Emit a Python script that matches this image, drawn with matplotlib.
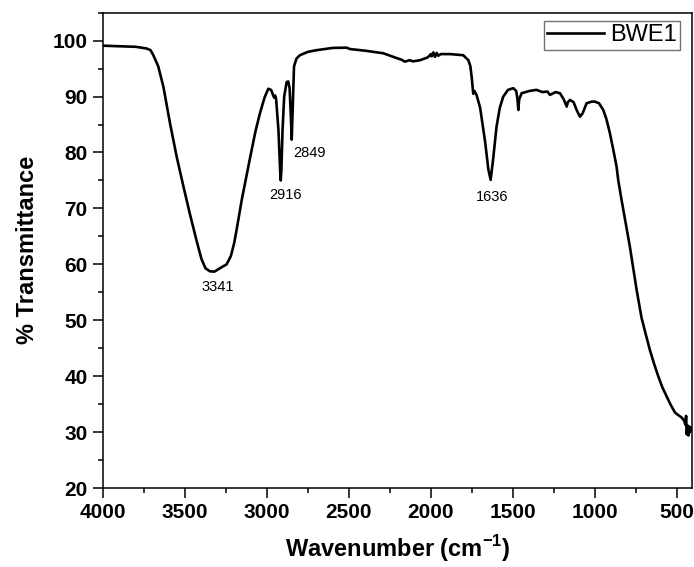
import matplotlib
matplotlib.use("Agg")
import matplotlib.pyplot as plt
from matplotlib.ticker import MultipleLocator

plt.rcParams['font.family'] = ['Liberation Sans', 'DejaVu Sans']
plt.rcParams['mathtext.fontset'] = 'custom'
plt.rcParams['mathtext.bf'] = 'Liberation Sans:bold'

# FTIR spectrum of BWE1
wavenumber = [
    4000, 3900, 3800, 3734, 3710, 3693, 3663, 3632, 3591, 3551, 3510, 3470,
    3429, 3400, 3375, 3348, 3320, 3287, 3246, 3220, 3200, 3185, 3154, 3124,
    3100, 3070, 3043, 3015, 2992, 2975, 2962, 2956, 2950, 2944, 2930, 2920,
    2916, 2912, 2905, 2895, 2880, 2870, 2862, 2855, 2849, 2843, 2835, 2820,
    2799, 2750, 2697, 2600, 2514, 2494, 2400, 2291, 2220, 2180, 2159, 2130,
    2110, 2067, 2020, 2000, 1995, 1985, 1975, 1965, 1955, 1940, 1884, 1803,
    1772, 1760, 1752, 1742, 1735, 1722, 1700, 1670, 1650, 1636, 1620, 1600,
    1580, 1559, 1530, 1498, 1480, 1472, 1467, 1462, 1447, 1400, 1356, 1320,
    1290, 1274, 1240, 1213, 1190, 1172, 1165, 1152, 1130, 1110, 1091, 1075,
    1051, 1020, 1000, 975, 949, 930, 909, 888, 868, 858, 838, 787, 746, 716,
    690, 665, 640, 614, 590, 563, 540, 512, 490, 471, 455, 448, 444, 440,
    435, 430, 425, 420, 415, 410,
]
transmittance = [
    99.1, 99.0, 98.9, 98.6, 98.3, 97.4, 95.4, 91.8, 85.2, 79.3, 74.0, 69.0,
    64.2, 61.0, 59.3, 58.75, 58.7, 59.3, 60.0, 61.5, 63.8, 66.2, 71.5, 76.0,
    79.5, 83.8, 87.0, 89.8, 91.4, 91.2, 90.2, 89.8, 90.2, 89.5, 84.0, 77.0,
    75.0, 77.0, 84.0, 90.0, 92.6, 92.7, 91.5, 87.0, 82.3, 88.0, 95.4, 96.8,
    97.4, 98.0, 98.3, 98.7, 98.75, 98.5, 98.2, 97.75, 97.0, 96.6, 96.25, 96.5,
    96.3, 96.5, 97.0, 97.6, 97.2, 97.9, 97.1, 97.8, 97.3, 97.6, 97.6, 97.4,
    96.5, 95.5, 93.6, 90.5, 91.0, 90.3, 88.0, 82.0, 77.0, 75.1, 79.0, 84.6,
    88.0, 90.0, 91.2, 91.5, 91.0, 89.5, 87.6, 89.5, 90.6, 91.0, 91.2, 90.8,
    90.9, 90.3, 90.8, 90.6, 89.5, 88.2, 89.0, 89.4, 89.0, 87.5, 86.4, 87.0,
    88.8, 89.1, 89.1, 88.8, 87.6, 86.0, 83.5, 80.5, 77.5, 75.1, 71.6, 63.2,
    55.5, 50.5, 47.5, 44.7, 42.3, 40.0, 38.1, 36.4, 35.0, 33.5, 33.0, 32.6,
    32.0, 31.3, 32.9, 29.6, 31.2, 29.4, 31.0, 30.0, 30.8, 30.5,
]

# peak labels: text, x, y of the label centre
peak_labels = ['3341', '2916', '2849', '1636']
peak_x = [3300, 2889, 2738, 1624]
peak_y = [56.0, 72.4, 79.9, 72.1]

fig = plt.figure(figsize=(6.94, 5.67), dpi=100)
ax = fig.add_axes([0.1484, 0.1393, 0.8487, 0.8383])

ax.plot(wavenumber, transmittance, color='black', linewidth=1.9, label='BWE1')

for txt, px, py in zip(peak_labels, peak_x, peak_y):
    ax.text(px, py, txt, fontsize=10.5, ha='center', va='center')

ax.set_xlim(4000, 408)
ax.set_ylim(20, 105)
ax.xaxis.set_major_locator(MultipleLocator(500))
ax.xaxis.set_minor_locator(MultipleLocator(250))
ax.yaxis.set_minor_locator(MultipleLocator(5))
ax.set_yticks(range(20, 101, 10))

ax.tick_params(which='both', direction='out', width=1.1, top=False, right=False)
ax.tick_params(which='major', length=7, labelsize=15, pad=4)
ax.tick_params(which='minor', length=3.5)
for lab in ax.get_xticklabels() + ax.get_yticklabels():
    lab.set_fontweight('bold')
for sp in ax.spines.values():
    sp.set_linewidth(1.1)

ax.set_xlabel('Wavenumber (cm$^{\\mathbf{-1}}$)', fontsize=17, fontweight='bold', labelpad=8)
ax.set_ylabel('% Transmittance', fontsize=17, fontweight='bold', labelpad=10)

leg = ax.legend(loc='upper right', bbox_to_anchor=(0.9796, 0.983), borderaxespad=0,
                fontsize=17, frameon=True, fancybox=False, handlelength=2.4,
                handletextpad=0.25, borderpad=0.15)
leg.get_frame().set_edgecolor('0.3')
leg.get_frame().set_linewidth(1.0)

fig.savefig('out.png', dpi=100)
